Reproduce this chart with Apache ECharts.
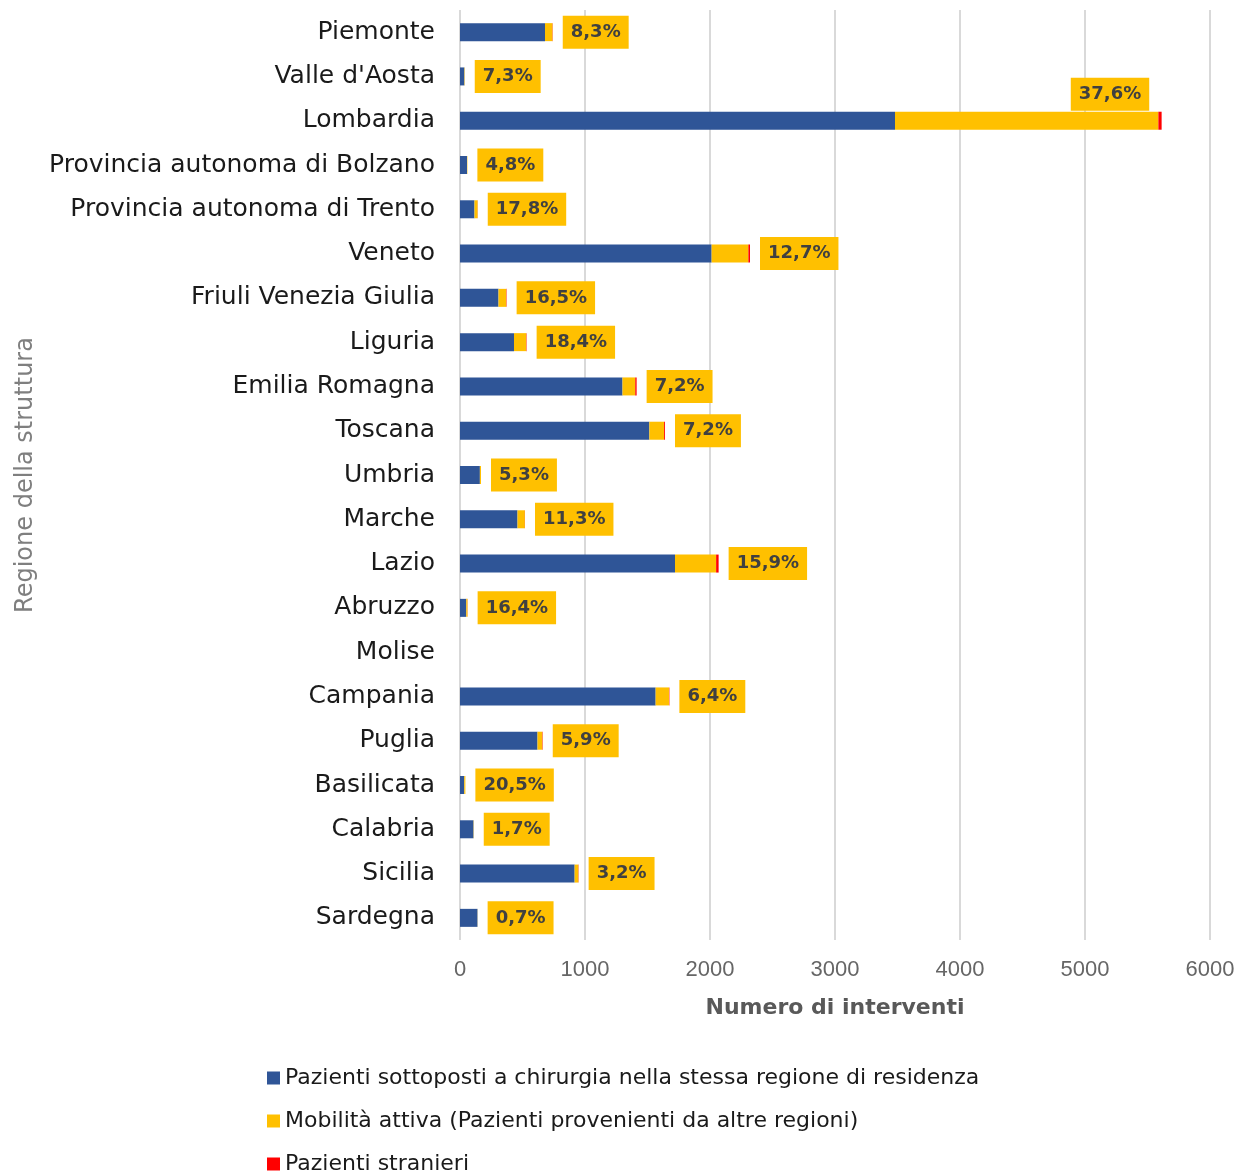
<!DOCTYPE html>
<html>
<head>
<meta charset="utf-8">
<script src="https://cdn.jsdelivr.net/npm/echarts@6/dist/echarts.min.js"></script>
<style>
html,body{margin:0;padding:0;background:#fff;}
#chart{width:1248px;height:1176px;}
</style>
</head>
<body>
<div id="chart"></div>
<script>
var categories = ["Piemonte","Valle d'Aosta","Lombardia","Provincia autonoma di Bolzano","Provincia autonoma di Trento","Veneto","Friuli Venezia Giulia","Liguria","Emilia Romagna","Toscana","Umbria","Marche","Lazio","Abruzzo","Molise","Campania","Puglia","Basilicata","Calabria","Sicilia","Sardegna"];
var residenti = [680, 35, 3480, 56, 116, 2013, 308, 432, 1300, 1515, 159, 460, 1720, 50, null, 1565, 620, 34, 108, 917, 140];
var mobilita = [60, 3, 2107, 3, 25, 294, 62, 98, 102, 118, 9, 59, 329, 10, null, 107, 39, 9, 2, 30, 1];
var stranieri = [2, 0, 26, 0, 1, 13, 3, 3, 11, 7, 0, 1, 20, 1, null, 3, 3, 0, 0, 2, 0];
var percentuali = ["8,3%","7,3%","37,6%","4,8%","17,8%","12,7%","16,5%","18,4%","7,2%","7,2%","5,3%","11,3%","15,9%","16,4%","","6,4%","5,9%","20,5%","1,7%","3,2%","0,7%"];
var xTicks = {min: 0, max: 6000, interval: 1000};
var seriesNames = ["Pazienti sottoposti a chirurgia nella stessa regione di residenza","Mobilità attiva (Pazienti provenienti da altre regioni)","Pazienti stranieri"];

var labelBase = {
  show: true,
  position: 'right',
  distance: 10,
  fontFamily: 'DejaVu Sans',
  fontWeight: 'bold',
  fontSize: 18,
  color: '#404040',
  backgroundColor: '#FFC000',
  padding: [8, 8, 7, 8],
  formatter: function (p) { return percentuali[p.dataIndex]; }
};

var redData = stranieri.map(function (v, i) {
  if (v === null) return null;
  if (categories[i] === 'Lombardia') {
    return {value: v, label: {position: 'top', distance: 1, offset: [-50, 0]}};
  }
  return v;
});

var chart = echarts.init(document.getElementById('chart'), null, {renderer: 'canvas'});
chart.setOption({
  animation: false,
  backgroundColor: '#ffffff',
  grid: {left: 460, right: 38, top: 10, bottom: 236, containLabel: false},
  legend: {
    orient: 'vertical',
    left: 262,
    top: 1062,
    height: 200,
    itemWidth: 13,
    itemHeight: 13,
    itemGap: 21,
    icon: 'rect',
    textStyle: {fontFamily: 'DejaVu Sans', fontSize: 22, color: '#1a1a1a'},
    data: seriesNames
  },
  xAxis: {
    type: 'value',
    min: xTicks.min,
    max: xTicks.max,
    interval: xTicks.interval,
    axisLine: {show: false},
    axisTick: {show: false},
    splitLine: {show: true, lineStyle: {color: '#d9d9d9', width: 2}},
    axisLabel: {fontFamily: 'Liberation Sans', fontSize: 22, color: '#666666', margin: 19,
      formatter: function (v) { return String(v); }},
    name: 'Numero di interventi',
    nameLocation: 'middle',
    nameGap: 57,
    nameTextStyle: {fontFamily: 'DejaVu Sans', fontWeight: 'bold', fontSize: 22, color: '#595959'}
  },
  yAxis: {
    type: 'category',
    inverse: true,
    data: categories,
    axisLine: {show: false},
    axisTick: {show: false},
    axisLabel: {fontFamily: 'DejaVu Sans', fontSize: 25, color: '#1a1a1a', margin: 25},
    name: 'Regione della struttura',
    nameLocation: 'middle',
    nameRotate: 90,
    nameGap: 419,
    nameTextStyle: {fontFamily: 'DejaVu Sans', fontSize: 24, color: '#7f7f7f'}
  },
  series: [
    {name: seriesNames[0], type: 'bar', stack: 'tot', barWidth: 18, data: residenti, itemStyle: {color: '#2F5597'}},
    {name: seriesNames[1], type: 'bar', stack: 'tot', barWidth: 18, data: mobilita, itemStyle: {color: '#FFC000'}},
    {name: seriesNames[2], type: 'bar', stack: 'tot', barWidth: 18, data: redData, itemStyle: {color: '#FF0000'}, label: labelBase}
  ]
});
</script>
</body>
</html>
